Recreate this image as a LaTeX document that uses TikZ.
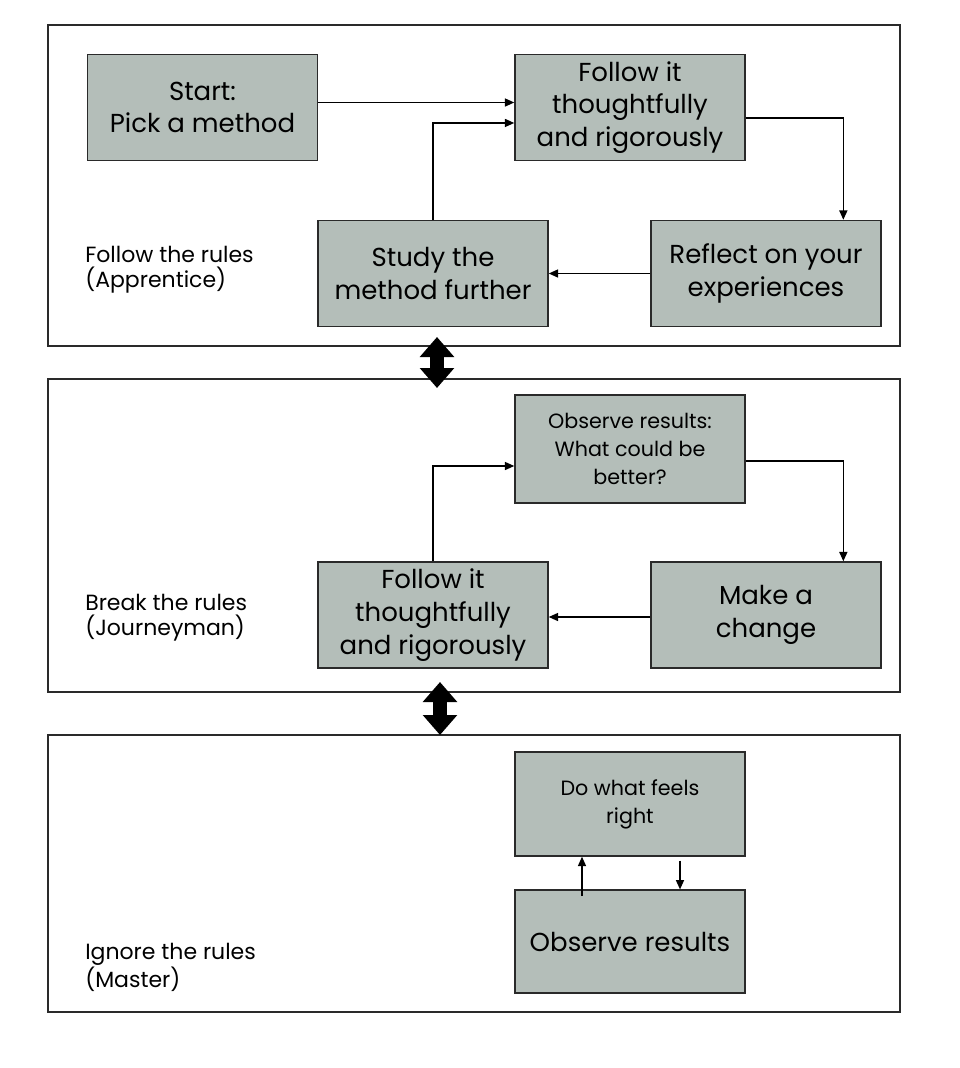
\documentclass[tikz,border=0pt]{standalone}
\usepackage{fontspec}
\setmainfont{Poppins}
\usetikzlibrary{arrows.meta}

\definecolor{boxgrey}{HTML}{B4BEB9}
\definecolor{linegrey}{HTML}{2A2A2A}

\begin{document}
\begin{tikzpicture}[x=0.75pt, y=-0.75pt, >={Triangle[length=7pt,width=6pt]},
	stage/.style={draw=linegrey, line width=1.1pt, minimum width=639pt, inner sep=0pt},
	task/.style={draw=linegrey, line width=1.1pt, fill=boxgrey, minimum width=172.5pt, minimum height=79.5pt, align=center, font=\fontsize{19.5}{24.5}\selectfont, inner sep=1pt},
	smalltask/.style={task, font=\fontsize{15.5}{21}\selectfont},
	rule/.style={anchor=west, align=left, font=\fontsize{16.5}{19}\selectfont, inner sep=0pt},
	flow/.style={->, line width=1.1pt},
	swap/.style={line width=11pt, {Triangle[length=15pt,width=25pt]}-{Triangle[length=15pt,width=25pt]}}]
	\useasboundingbox (0,0) rectangle (960,1068);

	% Stages {apprentice, journeyman, master}
	\node [stage, minimum height=240.75pt] (apprentice) at (474,185.5) {};
	\node [stage, minimum height=234.75pt] (journeyman) at (474,535.5) {};
	\node [stage, minimum height=207.75pt] (master)     at (474,873.5) {};

	\node [rule] (rules1) at (85,270) {Follow the rules\\(Apprentice)};
	\node [rule] (rules2) at (85,618) {Break the rules\\(Journeyman)};
	\node [rule] (rules3) at (85,967) {Ignore the rules\\(Master)};

	% Apprentice loop
	\node [task] (start)   at (202.5,107.5) {Start:\\Pick a method};
	\node [task] (follow1) at (630,107.5)   {Follow it\\thoughtfully\\and rigorously};
	\node [task] (study)   at (433,273.5)   {Study the\\method further};
	\node [task] (reflect) at (766,273.5)   {Reflect on your\\experiences};

	\draw [flow] ([yshift=3.75pt]start.east) -- ([yshift=3.75pt]start.east -| follow1.west);
	\draw [flow] (study.north) |- ([yshift=-11.6pt]follow1.west);
	\draw [flow] ([yshift=-7.9pt]follow1.east) -| ([xshift=58pt]reflect.north);
	\draw [flow] (reflect.west) -- (study.east);

	% Journeyman loop
	\node [smalltask, minimum height=81pt] (observe) at (630,449) {Observe results:\\What could be\\better?};
	\node [task] (follow2) at (433,615) {Follow it\\thoughtfully\\and rigorously};
	\node [task] (change)  at (766,615) {Make a\\change};

	\draw [flow] (follow2.north) |- ([yshift=-12.75pt]observe.west);
	\draw [flow] ([yshift=-9pt]observe.east) -| ([xshift=58pt]change.north);
	\draw [flow] ([yshift=-1.5pt]change.west) -- ([yshift=-1.5pt]follow2.east);

	% Master loop
	\node [smalltask, minimum height=78pt] (feel) at (630,804) {Do what feels\\right};
	\node [task, minimum height=77pt] (result) at (630,941.5) {Observe results};

	\draw [flow] ([xshift=-36pt,yshift=-5pt]result.north) -- ([xshift=-36pt]feel.south);
	\draw [flow] ([xshift=37.5pt,yshift=-3pt]feel.south) -- ([xshift=37.5pt]result.north);

	% Moves between stages
	\coordinate (up1) at (437,337);
	\coordinate (dn1) at (437,388);
	\coordinate (up2) at (440,682);
	\coordinate (dn2) at (440,735);
	\draw [swap] (up1) -- (dn1);
	\draw [swap] (up2) -- (dn2);
\end{tikzpicture}
\end{document}
